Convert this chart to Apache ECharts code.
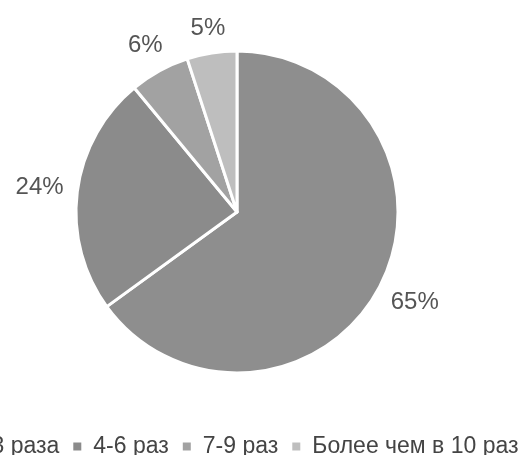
<!DOCTYPE html>
<html>
<head>
<meta charset="utf-8">
<script src="https://cdn.jsdelivr.net/npm/echarts@6/dist/echarts.min.js"></script>
<style>html,body{margin:0;padding:0;background:#fff;}#c{width:528px;height:455px;}</style>
</head>
<body>
<div id="c"></div>
<script>
var categories = ['1-3 раза', '4-6 раз', '7-9 раз', 'Более чем в 10 раз'];
var values = [65, 24, 6, 5];
var colors = ['#8e8e8e', '#8b8b8b', '#a2a2a2', '#bebebe'];

var pieCenter = [237, 212];
var FONT = 'Liberation Sans, Arial, sans-serif';

var chart = echarts.init(document.getElementById('c'), null, {renderer: 'canvas'});
chart.setOption({
  animation: false,
  backgroundColor: '#ffffff',
  color: colors,
  textStyle: {fontFamily: FONT},
  legend: {
    data: categories,
    left: -56,
    bottom: -8,
    width: 800,
    icon: 'rect',
    itemWidth: 10,
    itemHeight: 10,
    itemGap: 12,
    textStyle: {fontSize: 23, color: '#444444', fontFamily: FONT, padding: [0, 0, 0, 6]}
  },
  series: [{
    type: 'pie',
    center: pieCenter,
    radius: 161,
    startAngle: 90,
    clockwise: true,
    avoidLabelOverlap: false,
    itemStyle: {borderColor: '#ffffff', borderWidth: 3},
    label: {
      show: true,
      position: 'outside',
      formatter: '{c}%',
      fontSize: 24,
      color: '#555555',
      fontFamily: FONT
    },
    labelLine: {show: false, length: 13, length2: 0},
    labelLayout: function (p) {
      var pts = p.labelLinePoints;
      if (!pts) return {align: 'center', verticalAlign: 'middle'};
      var a = pts[pts.length - 1];
      var dx = a[0] - pieCenter[0], dy = a[1] - pieCenter[1];
      var len = Math.sqrt(dx * dx + dy * dy) || 1;
      var ux = dx / len, uy = dy / len;
      var w = p.labelRect.width, h = p.labelRect.height * 0.75;
      var s = Math.abs(ux) * w / 2 + Math.abs(uy) * h / 2;
      return {x: a[0] + ux * s, y: a[1] + uy * s, align: 'center', verticalAlign: 'middle'};
    },
    emphasis: {disabled: true},
    data: categories.map(function (n, i) { return {name: n, value: values[i]}; })
  }]
});
</script>
</body>
</html>
